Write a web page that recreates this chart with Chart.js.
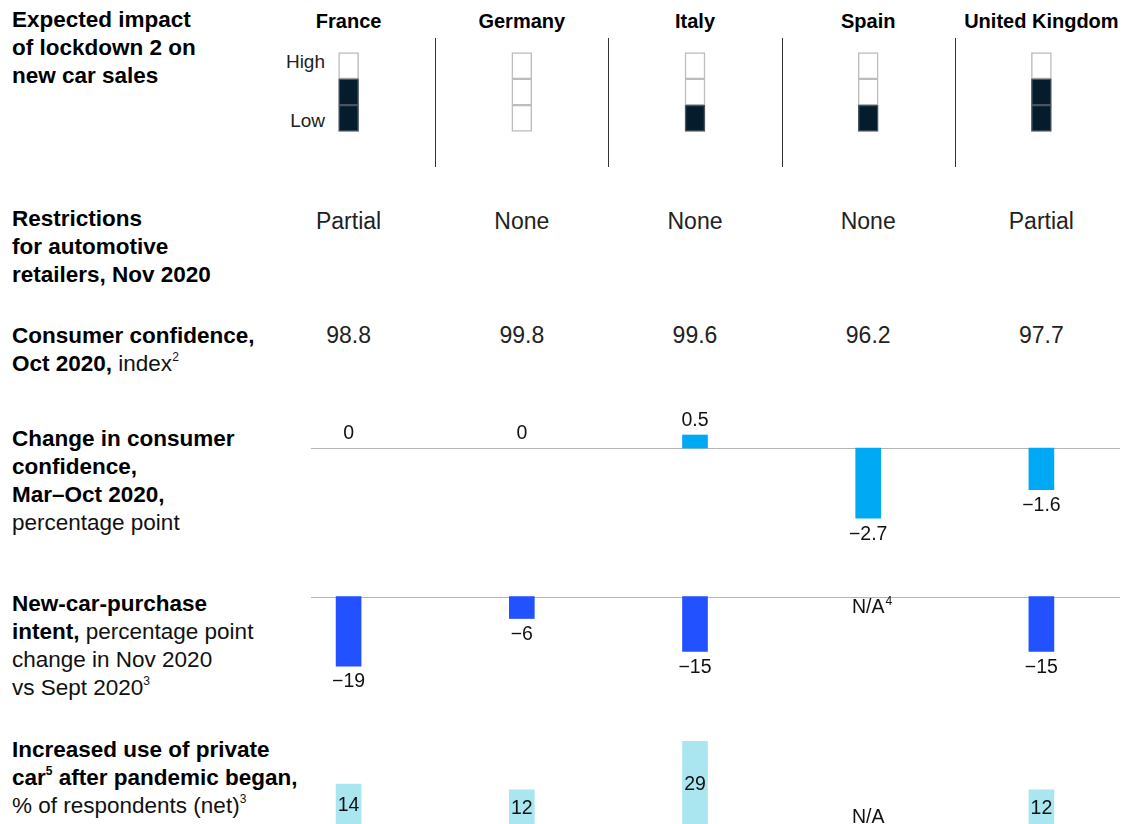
<!DOCTYPE html>
<html>
<head>
<meta charset="utf-8">
<script src="https://cdn.jsdelivr.net/npm/chart.js@4"></script>
<style>
  html, body { margin: 0; padding: 0; background: #fff; }
  body { width: 1134px; height: 824px; position: relative; overflow: hidden;
         font-family: "Liberation Sans", Arial, sans-serif; color: #000; }
  .lbl { position: absolute; left: 12px; font-size: 22.5px; line-height: 28px; color: #111; }
  .lbl b { font-weight: 700; color: #000; }
  sup { font-size: 12px; line-height: 0; vertical-align: 10px; }
  .head { position: absolute; top: 10px; width: 172px; margin-left: -86px; text-align: center;
          font-weight: 700; font-size: 20px; }
  .val { position: absolute; width: 172px; margin-left: -86px; text-align: center;
         font-size: 23px; color: #222; }
  .div { position: absolute; top: 38px; height: 129px; width: 1px; background: #333; }
  .hl { position: absolute; font-size: 19px; color: #222; text-align: right; width: 70px; left: 255px; }
  canvas { position: absolute; left: 262px; }
</style>
</head>
<body>

<div class="lbl" style="top:6px"><b>Expected impact<br>of lockdown 2 on<br>new car sales</b></div>
<div class="lbl" style="top:205px"><b>Restrictions<br>for automotive<br>retailers, Nov 2020</b></div>
<div class="lbl" style="top:322px"><b>Consumer confidence,<br>Oct 2020,</b> index<sup>2</sup></div>
<div class="lbl" style="top:425px"><b>Change in consumer<br>confidence,<br>Mar–Oct 2020,</b><br>percentage point</div>
<div class="lbl" style="top:590px"><b>New-car-purchase<br>intent,</b> percentage point<br>change in Nov 2020<br>vs Sept 2020<sup>3</sup></div>
<div class="lbl" style="top:736px"><b>Increased use of private<br>car<sup>5</sup> after pandemic began,</b><br>% of respondents (net)<sup>3</sup></div>

<div class="hl" style="top:51px">High</div>
<div class="hl" style="top:110px">Low</div>

<canvas id="impactChart" width="866" height="80" style="top:52px"></canvas>
<canvas id="changeChart" width="866" height="156" style="top:396px"></canvas>
<canvas id="intentChart" width="866" height="128" style="top:560px"></canvas>
<canvas id="carChart" width="866" height="94" style="top:730px"></canvas>

<script>
// Chart data
const countries = ["France", "Germany", "Italy", "Spain", "United Kingdom"];
const impactLevel = [2, 0, 1, 1, 2]; // filled boxes out of 3 (low to high)
const restrictions = ["Partial", "None", "None", "None", "Partial"];
const confidenceIndex = ["98.8", "99.8", "99.6", "96.2", "97.7"];
const confidenceChange = [0, 0, 0.5, -2.7, -1.6];
const purchaseIntent = [-19, -6, -15, null, -15];
const privateCarUse = [14, 12, 29, null, 12];

const colStart = 262;
const colWidth = 866 / countries.length;
const colCenter = (i) => colStart + colWidth * (i + 0.5);

// Country headers, text rows and dividers
countries.forEach((name, i) => {
  const x = colCenter(i);
  document.body.insertAdjacentHTML("beforeend",
    `<div class="head" style="left:${x}px">${name}</div>` +
    `<div class="val" style="left:${x}px;top:208px">${restrictions[i]}</div>` +
    `<div class="val" style="left:${x}px;top:322px">${confidenceIndex[i]}</div>`);
  if (i > 0) {
    document.body.insertAdjacentHTML("beforeend",
      `<div class="div" style="left:${Math.round(colStart + colWidth * i)}px"></div>`);
  }
});

function fmt(v) {
  return v < 0 ? "\u2212" + String(Math.abs(v)) : String(v);
}

const labelFont = "19.5px 'Liberation Sans', Arial, sans-serif";

// Draws the gray zero line and the value labels
function labelPlugin(opts) {
  return {
    id: "labels",
    beforeDatasetsDraw(chart) {
      if (!opts.zeroLine) return;
      const ctx = chart.ctx;
      const y = Math.round(chart.scales.y.getPixelForValue(0)) + 0.5;
      ctx.save();
      ctx.strokeStyle = "#b5b5b5";
      ctx.lineWidth = 1;
      ctx.beginPath();
      ctx.moveTo(49, y);
      ctx.lineTo(858, y);
      ctx.stroke();
      ctx.restore();
    },
    afterDatasetsDraw(chart) {
      const ctx = chart.ctx;
      const meta = chart.getDatasetMeta(0);
      const values = chart.data.datasets[0].data;
      const zero = chart.scales.y.getPixelForValue(0);
      ctx.save();
      ctx.font = labelFont;
      ctx.fillStyle = "#111";
      ctx.textAlign = "center";
      ctx.textBaseline = "middle";
      values.forEach((v, i) => {
        const x = chart.scales.x.getPixelForValue(i);
        if (v === null) {
          const y = zero + opts.naOffset;
          ctx.fillText("N/A", x, y);
          if (opts.naNote) {
            const w = ctx.measureText("N/A").width;
            ctx.font = "12px 'Liberation Sans', Arial, sans-serif";
            ctx.textAlign = "left";
            ctx.fillText(opts.naNote, x + w / 2 + 1, y - 6);
            ctx.font = labelFont;
            ctx.textAlign = "center";
          }
          return;
        }
        const bar = meta.data[i];
        let y;
        if (opts.inside) y = (bar.y + bar.base) / 2 + 2;
        else if (v >= 0) y = bar.y - 14;
        else y = bar.y + 16;
        ctx.fillText(fmt(v), x, y);
      });
      ctx.restore();
    },
  };
}

function barOptions(min, max) {
  return {
    responsive: false,
    animation: false,
    layout: { padding: 0 },
    plugins: { legend: { display: false }, tooltip: { enabled: false } },
    scales: {
      x: { display: false },
      y: { display: false, min: min, max: max },
    },
  };
}

// zero-value bars should leave no mark on the baseline
const barColor = (values, color) => values.map((v) => (v === 0 ? "rgba(0,0,0,0)" : color));

// Expected impact boxes: three stacked cells per country
const impactDatasets = [0, 1, 2].map((level) => ({
  data: countries.map(() => 1),
  backgroundColor: impactLevel.map((n) => (level < n ? "#051c2c" : "#ffffff")),
  borderColor: impactLevel.map((n) => (level < n ? "#4a5560" : "#bdbdbd")),
  borderWidth: 1.5,
  borderSkipped: false,
  barThickness: 20,
}));
new Chart(document.getElementById("impactChart"), {
  type: "bar",
  data: { labels: countries, datasets: impactDatasets },
  options: {
    ...barOptions(-0.02, 3.02),
    scales: {
      x: { display: false, stacked: true },
      y: { display: false, stacked: true, min: -0.02, max: 3.02 },
    },
  },
});

// Change in consumer confidence
new Chart(document.getElementById("changeChart"), {
  type: "bar",
  data: {
    labels: countries,
    datasets: [{ data: confidenceChange, backgroundColor: barColor(confidenceChange, "#00a9f4"), barThickness: 25 }],
  },
  options: barOptions(-4, 2),
  plugins: [labelPlugin({ zeroLine: true })],
});

// New-car-purchase intent
new Chart(document.getElementById("intentChart"), {
  type: "bar",
  data: {
    labels: countries,
    datasets: [{ data: purchaseIntent, backgroundColor: "#2251ff", barThickness: 25 }],
  },
  options: barOptions(-25, 10),
  plugins: [labelPlugin({ zeroLine: true, naOffset: 11, naNote: "4" })],
});

// Increased use of private car
new Chart(document.getElementById("carChart"), {
  type: "bar",
  data: {
    labels: countries,
    datasets: [{ data: privateCarUse, backgroundColor: "#aae6f0", barThickness: 25 }],
  },
  options: barOptions(0, 33),
  plugins: [labelPlugin({ inside: true, naOffset: -6 })],
});
</script>
</body>
</html>
